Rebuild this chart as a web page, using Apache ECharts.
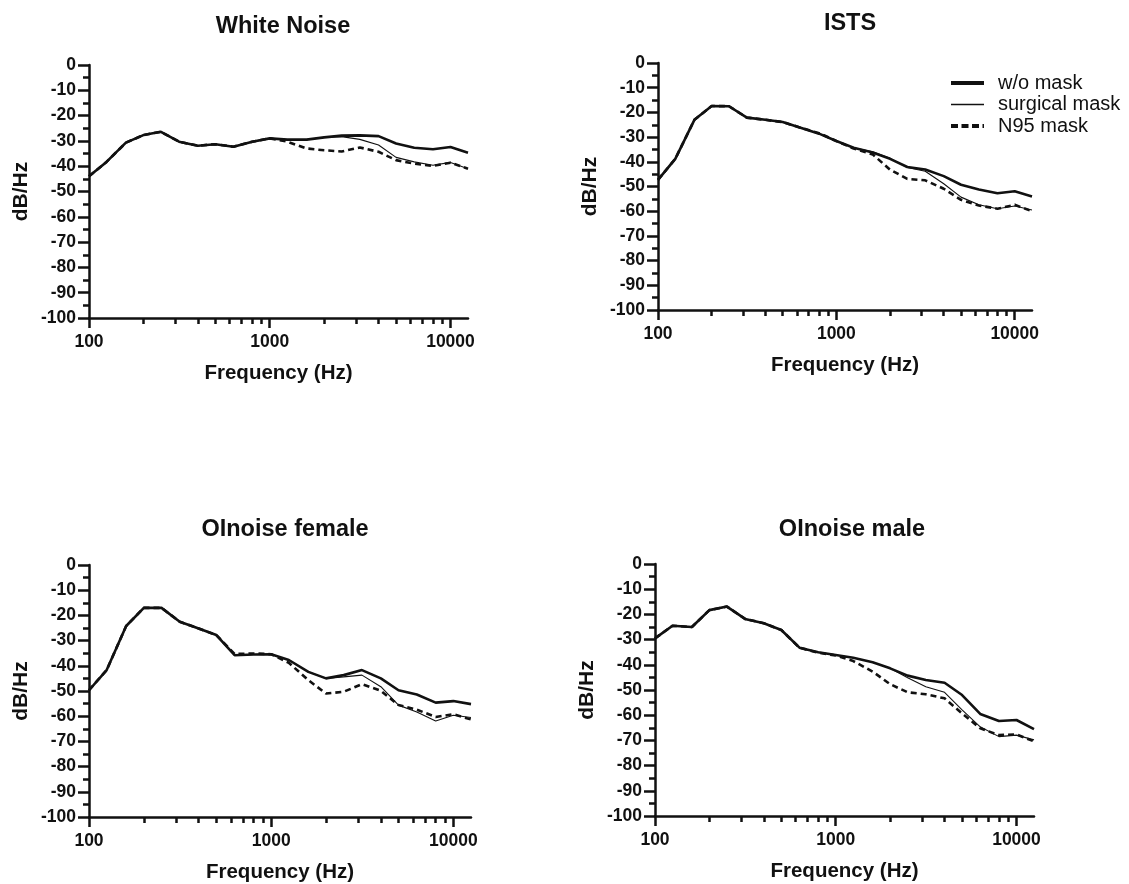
<!DOCTYPE html>
<html><head><meta charset="utf-8">
<script src="https://cdn.jsdelivr.net/npm/echarts@6/dist/echarts.min.js"></script>
<style>html,body{margin:0;padding:0;background:#fff}#c{width:1129px;height:884px}</style>
</head><body><div id="c"></div>
<script>
const freqs = [100,125,160,200,250,315,400,500,630,800,1000,1250,1600,2000,2500,3150,4000,5000,6300,8000,10000,12500];
const panelTitles = ['White Noise','ISTS','OInoise female','OInoise male'];
const seriesNames = ['w/o mask','surgical mask','N95 mask'];
const xTickLabels = [100,1000,10000];
const xMinorTicks = [200,300,400,500,600,700,800,900,2000,3000,4000,5000,6000,7000,8000,9000];
const yAxisName = 'dB/Hz';
const xAxisName = 'Frequency (Hz)';

const whiteNoiseNoMask   = [-44,-38.3,-30.7,-27.7,-26.4,-30.3,-31.9,-31.3,-32.3,-30.3,-29,-29.5,-29.5,-28.6,-27.9,-27.8,-28.1,-31,-32.7,-33.3,-32.4,-34.7];
const whiteNoiseSurgical = [-44,-38.3,-30.7,-27.7,-26.4,-30.3,-31.9,-31.3,-32.3,-30.3,-29,-29.5,-29.5,-28.6,-28.3,-29.4,-31.6,-36.5,-38.3,-39.6,-38.5,-41];
const whiteNoiseN95      = [-44,-38.3,-30.7,-27.7,-26.4,-30.3,-31.9,-31.3,-32.3,-30.3,-29,-30.3,-33,-33.7,-34.2,-32.6,-34.3,-37.6,-39,-39.9,-38.6,-41];

const istsNoMask   = [-47.3,-38.8,-23,-17.4,-17.5,-22.1,-23,-23.9,-26.2,-28.6,-31.6,-34.3,-36.2,-38.8,-42.1,-43.1,-45.8,-49.3,-51.2,-52.7,-51.9,-54];
const istsSurgical = [-47.3,-38.8,-23,-17.4,-17.5,-22.1,-23,-23.9,-26.2,-28.6,-31.6,-34.3,-35.9,-38.6,-42.3,-43.8,-48.9,-54.3,-57.4,-59,-57.9,-59.5];
const istsN95      = [-47.3,-38.8,-23,-17.4,-17.5,-22.1,-23,-23.9,-26.2,-28.4,-31.6,-34.6,-37,-43.2,-46.9,-47.5,-50.9,-55.4,-57.7,-59,-57.4,-60];

const femaleNoMask   = [-49.7,-41.7,-24.2,-17,-17,-22.5,-25.2,-27.8,-35.8,-35.5,-35.4,-37.7,-42.4,-45,-43.7,-41.7,-45,-49.7,-51.4,-54.6,-54,-55.2];
const femaleSurgical = [-49.7,-41.7,-24.2,-17,-17,-22.5,-25.2,-27.8,-35.8,-35.5,-35.4,-37.7,-42.4,-45,-44.4,-43.7,-48.3,-55.6,-58.3,-61.9,-59.6,-60.5];
const femaleN95      = [-49.7,-41.7,-24.2,-17,-17,-22.5,-25.2,-27.8,-35.3,-35.1,-35.4,-38.8,-45.7,-51,-50.3,-47.3,-49.9,-55.6,-57.4,-60.3,-59.2,-61.3];

const maleNoMask   = [-29.5,-24.5,-25,-18.3,-16.9,-21.8,-23.5,-26.2,-33.2,-35,-36.1,-37.2,-39,-41.4,-44.3,-46,-47.1,-52,-59.5,-62.3,-61.9,-65.5];
const maleSurgical = [-29.5,-24.5,-25,-18.3,-16.9,-21.8,-23.5,-26.2,-33.2,-35,-36.1,-37.2,-39,-41.4,-45.1,-48.7,-50.9,-57.9,-64.6,-68.5,-67.9,-69.8];
const maleN95      = [-29.5,-24.5,-25,-18.3,-16.9,-21.8,-23.5,-26.2,-33.2,-35.2,-36.3,-38.5,-42.7,-47.7,-50.9,-51.7,-53.3,-59.3,-65.2,-67.9,-67.6,-70.4];

const panelData = [
  [whiteNoiseNoMask, whiteNoiseSurgical, whiteNoiseN95],
  [istsNoMask, istsSurgical, istsN95],
  [femaleNoMask, femaleSurgical, femaleN95],
  [maleNoMask, maleSurgical, maleN95]
];

const grids = [
  {left: 89, top: 65, width: 379, height: 253},
  {left: 658, top: 63, width: 374, height: 247},
  {left: 89, top: 565, width: 382, height: 252},
  {left: 655, top: 564, width: 379, height: 252}
];
const titlePos = [[278, 10], [845, 7], [280, 513], [847, 513]];
const INK = '#111';
const FONT = '"Liberation Sans", Arial, sans-serif';

const lineStyles = [
  {color: INK, width: 2.6, type: 'solid'},
  {color: INK, width: 1.1, type: 'solid'},
  {color: INK, width: 2.6, type: [6, 4]}
];

const option = {
  animation: false,
  backgroundColor: '#fff',
  title: panelTitles.map((t, i) => ({
    text: t, left: titlePos[i][0], top: titlePos[i][1], textAlign: 'center',
    textStyle: {fontFamily: FONT, fontWeight: 'bold', fontSize: 23.5, color: INK}
  })),
  legend: {
    orient: 'vertical', left: 949, top: 73, padding: 0, itemWidth: 33, itemHeight: 14, itemGap: 1.5,
    itemStyle: {opacity: 0, borderWidth: 0},
    textStyle: {fontFamily: FONT, fontSize: 20, color: INK, padding: [0, 0, 0, 9]},
    data: [
      {name: seriesNames[0], lineStyle: {width: 4}},
      {name: seriesNames[1], lineStyle: {width: 1.4}},
      {name: seriesNames[2], lineStyle: {width: 4, type: [7, 3.5]}}
    ]
  },
  grid: grids,
  xAxis: [],
  yAxis: [],
  series: []
};

grids.forEach((g, i) => {
  option.xAxis.push({
    type: 'log', logBase: 10, min: 100, max: 12500, gridIndex: i,
    name: xAxisName, nameLocation: 'middle', nameGap: 45,
    nameTextStyle: {fontFamily: FONT, fontWeight: 'bold', fontSize: 20.5, color: INK},
    axisLine: {show: true, onZero: false, lineStyle: {color: INK, width: 2.5}},
    axisTick: {show: true, length: 10, lineStyle: {color: INK, width: 2.5}, customValues: xTickLabels},
    axisLabel: {show: true, margin: 15, fontFamily: FONT, fontWeight: 'bold', fontSize: 17.5, color: INK,
      customValues: xTickLabels, formatter: v => String(Math.round(v))},
    splitLine: {show: false}, minorTick: {show: false}
  });
  option.xAxis.push({
    type: 'log', logBase: 10, min: 100, max: 12500, gridIndex: i, position: 'bottom',
    axisLine: {show: false, onZero: false},
    axisTick: {show: true, length: 6, lineStyle: {color: INK, width: 2.5}, customValues: xMinorTicks},
    axisLabel: {show: false},
    splitLine: {show: false}
  });
  option.yAxis.push({
    type: 'value', min: -100, max: 0, interval: 10, gridIndex: i,
    name: yAxisName, nameLocation: 'middle', nameGap: 57, nameRotate: 90,
    nameTextStyle: {fontFamily: FONT, fontWeight: 'bold', fontSize: 21, color: INK},
    axisLine: {show: true, onZero: false, lineStyle: {color: INK, width: 2.5}},
    axisTick: {show: true, length: 11, lineStyle: {color: INK, width: 2.5}},
    minorTick: {show: true, splitNumber: 2, length: 6, lineStyle: {color: INK, width: 2.5}},
    axisLabel: {margin: 13, fontFamily: FONT, fontWeight: 'bold', fontSize: 17.5, color: INK},
    splitLine: {show: false}, minorSplitLine: {show: false}
  });
  panelData[i].forEach((vals, k) => {
    option.series.push({
      type: 'line', name: seriesNames[k], xAxisIndex: i * 2, yAxisIndex: i,
      data: freqs.map((f, j) => [f, vals[j]]),
      symbol: 'none', showSymbol: false, smooth: false,
      lineStyle: lineStyles[k], itemStyle: {color: INK},
      z: 3 - k
    });
  });
});

const chart = echarts.init(document.getElementById('c'), null, {renderer: 'canvas'});
chart.setOption(option);
</script></body></html>
